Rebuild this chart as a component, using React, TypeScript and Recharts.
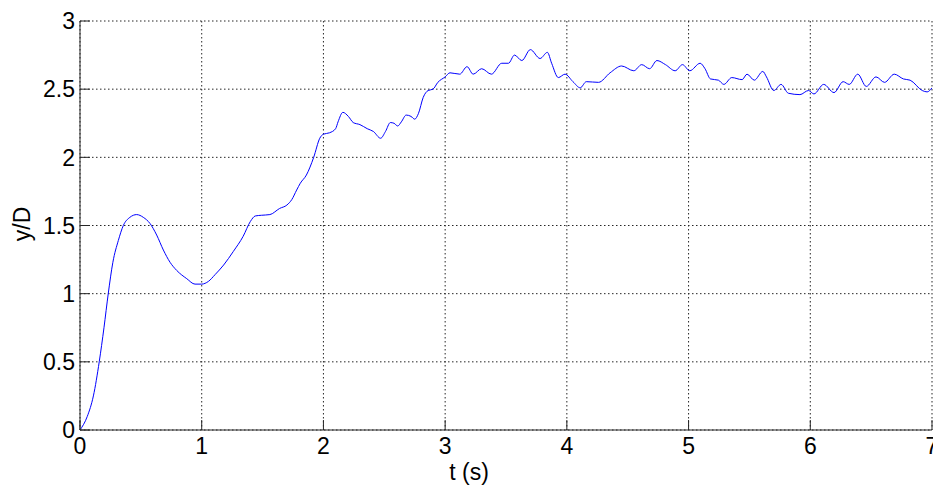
import React from 'react';
import {
  LineChart, Line, XAxis, YAxis, CartesianGrid, Label,
} from 'recharts';

// time samples (s) and normalised response y/D
const tValues = [
  0, 0.06, 0.11, 0.158, 0.197, 0.232, 0.27, 0.315, 0.356, 0.41, 0.466, 0.52, 0.575, 0.63,
  0.685, 0.74, 0.795, 0.877, 0.945, 1.0, 1.055, 1.11, 1.18, 1.26, 1.34, 1.4, 1.44, 1.49,
  1.56, 1.64, 1.7, 1.74, 1.78, 1.81, 1.86, 1.92, 1.97, 2.0, 2.05, 2.1, 2.12, 2.16, 2.205,
  2.245, 2.3, 2.36, 2.41, 2.47, 2.51, 2.55, 2.58, 2.61, 2.64, 2.68, 2.72, 2.75, 2.78, 2.82,
  2.86, 2.9, 2.94, 3.0, 3.04, 3.12, 3.18, 3.23, 3.3, 3.38, 3.465, 3.52, 3.57, 3.63, 3.7,
  3.78, 3.84, 3.875, 3.93, 3.985, 4.05, 4.11, 4.16, 4.26, 4.355, 4.45, 4.55, 4.615, 4.68,
  4.74, 4.81, 4.89, 4.95, 5.01, 5.095, 5.135, 5.18, 5.245, 5.29, 5.355, 5.44, 5.48, 5.54,
  5.61, 5.64, 5.7, 5.76, 5.82, 5.915, 5.985, 6.03, 6.11, 6.195, 6.27, 6.32, 6.39, 6.46,
  6.54, 6.61, 6.69, 6.765, 6.82, 6.92, 6.96, 7.0,
];
const yValues = [
  0, 0.1, 0.25, 0.5, 0.75, 1.0, 1.23, 1.39, 1.5, 1.56, 1.58, 1.56, 1.515, 1.43,
  1.32, 1.23, 1.17, 1.11, 1.07, 1.07, 1.09, 1.14, 1.21, 1.31, 1.42, 1.53, 1.57, 1.575,
  1.58, 1.625, 1.65, 1.69, 1.76, 1.81, 1.87, 2.0, 2.14, 2.17, 2.18, 2.21, 2.26, 2.33, 2.3,
  2.255, 2.24, 2.21, 2.19, 2.14, 2.19, 2.255, 2.25, 2.23, 2.26, 2.31, 2.3, 2.28, 2.32, 2.44,
  2.49, 2.5, 2.55, 2.59, 2.62, 2.61, 2.665, 2.61, 2.65, 2.61, 2.69, 2.69, 2.75, 2.71, 2.79,
  2.725, 2.77, 2.69, 2.585, 2.61, 2.555, 2.51, 2.555, 2.55, 2.62, 2.67, 2.635, 2.68, 2.65,
  2.71, 2.68, 2.635, 2.68, 2.635, 2.69, 2.65, 2.575, 2.566, 2.535, 2.585, 2.57, 2.61, 2.566,
  2.63, 2.59, 2.49, 2.535, 2.47, 2.46, 2.49, 2.465, 2.535, 2.475, 2.555, 2.535, 2.61, 2.52,
  2.59, 2.55, 2.61, 2.575, 2.566, 2.49, 2.48, 2.51,
];
const xTicks = [0, 1, 2, 3, 4, 5, 6, 7];
const yTicks = [0, 0.5, 1, 1.5, 2, 2.5, 3];

const data = tValues.map((t, i) => ({ t, y: yValues[i] }));

const FONT = '"Liberation Sans", Arial, sans-serif';
const INK = '#262626';
const TICK_LEN = 10;

const BottomTick = ({ x, y, payload }: any) => (
  <g>
    <line x1={x} x2={x} y1={y - 8} y2={y - 8 - TICK_LEN} stroke={INK} />
    <text x={x} y={y} dy="0.71em" textAnchor="middle" fontFamily={FONT} fontSize={23} fill="#000">
      {payload.value}
    </text>
  </g>
);

const LeftTick = ({ x, y, payload }: any) => (
  <g>
    <line x1={x + 5} x2={x + 5 + TICK_LEN} y1={y} y2={y} stroke={INK} />
    <text x={x} y={y} dy="0.36em" textAnchor="end" fontFamily={FONT} fontSize={23} fill="#000">
      {payload.value}
    </text>
  </g>
);

const TopTick = ({ x, y }: any) => (
  <line x1={x} x2={x} y1={y} y2={y + TICK_LEN} stroke={INK} />
);

const RightTick = ({ x, y }: any) => (
  <line x1={x} x2={x - TICK_LEN} y1={y} y2={y} stroke={INK} />
);

export default function App() {
  return (
    <div style={{ position: 'absolute', left: 0, top: 0, width: 933, height: 487, background: '#fff' }}>
      <LineChart width={933} height={487} data={data} margin={{ top: 21, right: 1, bottom: 0, left: 0 }}>
        <CartesianGrid stroke={INK} strokeDasharray="1.5 2.5" horizontalValues={yTicks} verticalValues={xTicks} />
        <XAxis
          dataKey="t" type="number" domain={[0, 7]} ticks={xTicks} allowDataOverflow
          height={57} tickSize={0} tickMargin={8} tickLine={false}
          axisLine={{ stroke: INK }} tick={<BottomTick />} interval={0}
        >
          <Label content={() => (
            <text x={469} y={480} textAnchor="middle" fontFamily={FONT} fontSize={23} fill="#000">t (s)</text>
          )} />
        </XAxis>
        <XAxis
          xAxisId="top" orientation="top" type="number" domain={[0, 7]} ticks={xTicks} allowDataOverflow
          height={0} tickSize={0} tickMargin={0} tickLine={false}
          axisLine={{ stroke: INK }} tick={<TopTick />} interval={0}
        />
        <YAxis
          type="number" domain={[0, 3]} ticks={yTicks} allowDataOverflow
          width={80} tickSize={0} tickMargin={5} tickLine={false}
          axisLine={{ stroke: INK }} tick={<LeftTick />} interval={0}
        >
          <Label content={() => (
            <text x={30} y={224} transform="rotate(-90, 30, 224)" textAnchor="middle"
              fontFamily={FONT} fontSize={23} fill="#000">y/D</text>
          )} />
        </YAxis>
        <YAxis
          yAxisId="right" orientation="right" type="number" domain={[0, 3]} ticks={yTicks} allowDataOverflow
          width={0} tickSize={0} tickMargin={0} tickLine={false}
          axisLine={{ stroke: INK }} tick={<RightTick />} interval={0}
        />
        <Line
          type="monotone" dataKey="y" stroke="#0000ff" strokeWidth={1}
          dot={false} isAnimationActive={false}
        />
      </LineChart>
    </div>
  );
}
